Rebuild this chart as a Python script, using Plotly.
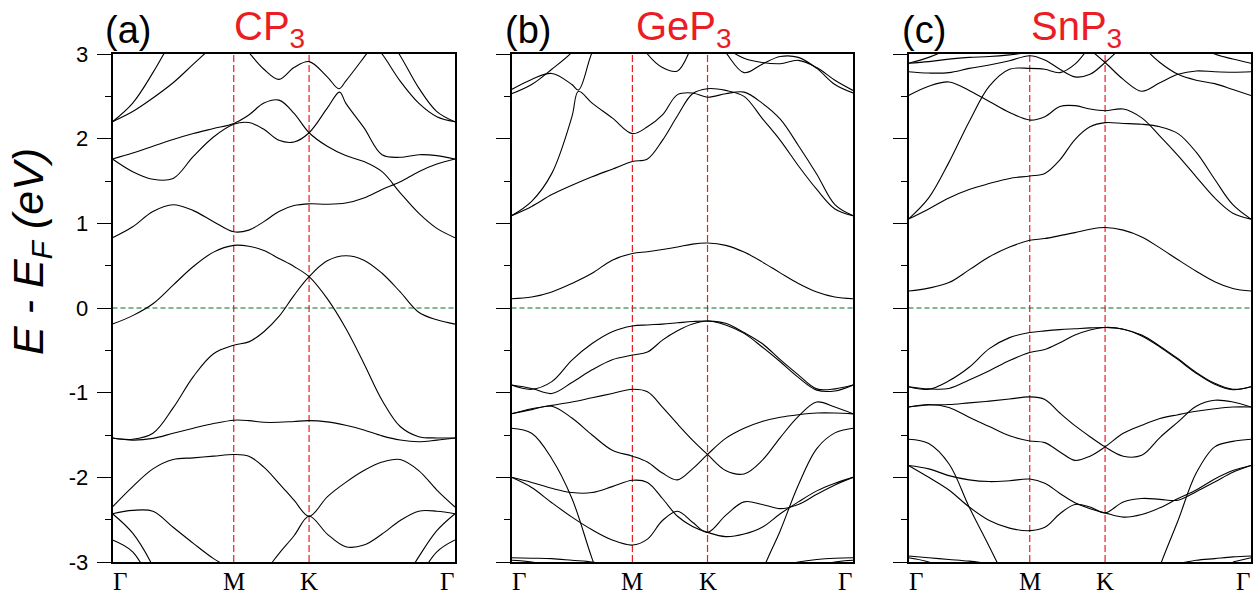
import plotly.graph_objects as go

N = None
# ---------------- data ----------------
K_GRID = [0.0, 0.059, 0.118, 0.177, 0.236, 0.295, 0.354, 0.398, 0.442, 0.486,
          0.530, 0.574, 0.627, 0.681, 0.734, 0.787, 0.840, 0.894, 0.947, 1.0]
KPATH_TICKS = [0.354, 0.574]            # M, K
XTICK_POS = [0.022, 0.354, 0.574, 0.978]
XTICK_TEXT = ["Γ", "M", "K", "Γ"]
YTICK_VALS = [-3, -2, -1, 0, 1, 2, 3]
YTICK_TEXT = ["-3", "-2", "-1", "0", "1", "2", "3"]
PANEL_TAGS = ["(a)", "(b)", "(c)"]
PANEL_NAMES = ["CP<sub>3</sub>", "GeP<sub>3</sub>", "SnP<sub>3</sub>"]

CP3_BANDS = [
    [0.83, 0.96, 1.14, 1.22, 1.15, 1.02, 0.90, 0.92, 1.02, 1.14, 1.21, 1.23, 1.225, 1.24, 1.30, 1.40, 1.49, 1.61, 1.70, 1.76],
    [1.76, 1.83, 1.91, 1.99, 2.06, 2.12, 2.18, 2.28, 2.42, 2.455, 2.30, 2.07, 1.91, 1.80, 1.73, 1.61, 1.36, 1.12, 0.94, 0.83],
    [1.76, 1.61, 1.52, 1.53, 1.79, 2.02, 2.17, 2.19, 2.11, 1.98, 1.96, 2.07, 2.36, 2.42, 2.13, 1.81, 1.78, 1.81, 1.80, 1.76],
    [N, N, N, N, N, N, 3.25, 3.02, 2.82, 2.70, 2.84, 2.91, 2.73, 2.68, 2.96, 3.25, N, N, N, N],
    [2.2, 2.42, 2.78, 3.2, N, N, N, N, N, N, N, N, N, N, N, 3.3, 2.98, 2.60, 2.32, 2.2],
    [2.2, 2.32, 2.48, 2.66, 2.88, 3.1, N, N, N, N, N, N, N, N, 3.25, 3.0, 2.68, 2.42, 2.26, 2.2],
    [-0.19, -0.09, 0.05, 0.27, 0.49, 0.66, 0.74, 0.73, 0.68, 0.585, 0.49, 0.37, 0.11, -0.24, -0.655, -1.09, -1.40, -1.52, -1.535, -1.535],
    [-1.535, -1.55, -1.48, -1.18, -0.81, -0.54, -0.44, -0.40, -0.28, -0.10, 0.15, 0.37, 0.557, 0.617, 0.565, 0.41, 0.19, -0.05, -0.14, -0.19],
    [-1.535, -1.56, -1.54, -1.48, -1.42, -1.365, -1.325, -1.33, -1.35, -1.35, -1.34, -1.33, -1.345, -1.385, -1.44, -1.51, -1.56, -1.58, -1.56, -1.535],
    [-2.35, -2.11, -1.90, -1.79, -1.77, -1.75, -1.73, -1.75, -1.88, -2.07, -2.27, -2.46, -2.23, -2.06, -1.92, -1.82, -1.79, -1.92, -2.15, -2.35],
    [-2.43, -2.39, -2.40, -2.59, -2.78, -2.96, -3.1, -3.25, -3.12, -2.9, -2.69, -2.46, -2.67, -2.82, -2.80, -2.67, -2.51, -2.40, -2.40, -2.43],
    [-2.43, -2.66, -3.05, -3.6, N, N, N, N, N, N, N, N, N, N, N, N, N, N, N, N],
    [-2.74, -2.88, -3.3, N, N, N, N, N, N, N, N, N, N, N, N, N, N, N, N, N],
    [N, N, N, N, N, N, N, N, N, N, N, N, N, N, N, N, -3.3, -2.94, -2.63, -2.43],
    [N, N, N, N, N, N, N, N, N, N, N, N, N, N, N, N, N, -3.2, -2.88, -2.74],
]
# sharp avoided-crossing points (band index, k, E)
CP3_CUSPS = [(2, 0.663, 2.55), (3, 0.661, 2.59)]

GEP3_BANDS = [
    [0.11, 0.13, 0.19, 0.29, 0.41, 0.565, 0.644, 0.664, 0.69, 0.72, 0.755, 0.767, 0.74, 0.66, 0.545, 0.415, 0.29, 0.19, 0.13, 0.11],
    [1.09, 1.20, 1.34, 1.45, 1.55, 1.64, 1.73, 1.76, 1.98, 2.27, 2.53, 2.59, 2.57, 2.50, 2.24, 1.98, 1.68, 1.40, 1.17, 1.09],
    [1.09, 1.26, 1.59, 2.26, 2.42, 2.245, 2.06, 2.14, 2.28, 2.52, 2.54, 2.49, 2.53, 2.55, 2.42, 2.23, 1.92, 1.58, 1.22, 1.09],
    [2.58, 2.70, 2.77, 2.64, 3.02, 3.5, N, N, N, N, N, N, N, N, N, N, N, N, N, N],
    [2.53, 2.64, 2.82, 3.02, 3.3, N, N, N, N, N, N, N, N, N, N, N, N, N, N, N],
    [N, N, N, N, N, N, 3.3, 3.0, 2.84, 2.80, 3.1, 3.4, N, N, N, N, N, N, N, N],
    [N, N, N, N, N, N, N, N, N, N, N, 3.3, 3.02, 2.78, 2.88, 2.97, 2.96, 2.83, 2.64, 2.54],
    [N, N, N, N, N, N, N, N, N, N, N, 3.3, 3.08, 2.95, 2.90, 2.885, 2.925, 2.84, 2.69, 2.57],
    [-0.91, -0.96, -0.87, -0.615, -0.42, -0.28, -0.213, -0.20, -0.19, -0.175, -0.16, -0.154, -0.18, -0.29, -0.42, -0.61, -0.79, -0.955, -0.955, -0.91],
    [-0.91, -0.95, -1.01, -0.88, -0.73, -0.61, -0.556, -0.52, -0.38, -0.27, -0.19, -0.154, -0.20, -0.30, -0.46, -0.635, -0.82, -0.97, -0.98, -0.91],
    [-1.25, -1.19, -1.15, -1.11, -1.06, -1.01, -0.96, -0.99, -1.17, -1.37, -1.56, -1.73, -1.92, -1.96, -1.80, -1.53, -1.28, -1.11, -1.17, -1.25],
    [-1.25, -1.20, -1.16, -1.30, -1.50, -1.68, -1.75, -1.82, -1.95, -2.03, -1.90, -1.73, -1.54, -1.42, -1.34, -1.29, -1.26, -1.24, -1.24, -1.25],
    [-1.42, -1.48, -1.78, -2.25, -2.96, -3.6, N, N, N, N, N, N, N, -3.9, -3.12, -2.63, -2.09, -1.66, -1.475, -1.42],
    [-2.0, -2.06, -2.13, -2.18, -2.18, -2.11, -2.035, -2.06, -2.25, -2.46, -2.58, -2.65, -2.70, -2.67, -2.59, -2.43, -2.29, -2.16, -2.07, -2.0],
    [-2.0, -2.12, -2.30, -2.47, -2.62, -2.74, -2.80, -2.73, -2.51, -2.40, -2.53, -2.65, -2.45, -2.29, -2.32, -2.37, -2.32, -2.20, -2.09, -2.0],
    [-2.95, -2.955, -2.96, -2.98, -3.0, -3.05, N, N, N, N, N, N, N, N, N, -3.05, -3.0, -2.97, -2.955, -2.95],
    [-2.98, -3.0, -3.05, N, N, N, N, N, N, N, N, N, N, N, N, N, N, -3.05, -3.0, -2.98],
]
GEP3_CUSPS = [(2, 0.196, 2.56), (3, 0.196, 2.575)]

SNP3_BANDS = [
    [0.20, 0.235, 0.30, 0.45, 0.605, 0.72, 0.80, 0.82, 0.855, 0.89, 0.93, 0.95, 0.92, 0.84, 0.71, 0.57, 0.435, 0.31, 0.23, 0.20],
    [1.05, 1.17, 1.30, 1.40, 1.47, 1.53, 1.56, 1.59, 1.75, 1.99, 2.14, 2.19, 2.18, 2.17, 2.14, 2.06, 1.84, 1.52, 1.22, 1.05],
    [1.05, 1.30, 1.72, 2.20, 2.62, 2.82, 2.83, 2.82, 2.78, 2.88, 3.1, N, N, N, N, N, N, N, N, N],
    [2.51, 2.62, 2.67, 2.57, 2.44, 2.31, 2.22, 2.26, 2.38, 2.39, 2.35, 2.33, 2.35, 2.245, 2.03, 1.80, 1.55, 1.30, 1.12, 1.05],
    [2.79, 2.775, 2.78, 2.83, 2.87, 2.92, 2.98, 2.93, 2.82, 2.73, 2.76, 2.90, 3.1, N, N, N, N, N, N, N],
    [N, N, N, N, N, N, N, N, N, N, 3.05, 2.90, 2.70, 2.56, 2.66, 2.76, 2.80, 2.79, 2.785, 2.79],
    [N, N, N, N, N, N, N, N, N, N, N, N, N, 3.1, 2.90, 2.76, 2.69, 2.65, 2.58, 2.51],
    [N, N, N, N, N, N, N, N, N, N, N, N, N, N, N, N, 3.1, 3.0, 2.94, 2.89],
    [2.89, 2.91, 2.94, 2.96, 2.97, 2.99, 3.02, N, N, N, N, N, N, N, N, N, N, N, N, N],
    [2.89, 2.96, 3.06, N, N, N, N, N, N, N, N, N, N, N, N, N, N, N, N, N],
    [-0.93, -0.96, -0.86, -0.70, -0.48, -0.35, -0.29, -0.27, -0.255, -0.245, -0.235, -0.23, -0.25, -0.32, -0.45, -0.60, -0.76, -0.89, -0.96, -0.93],
    [-0.93, -0.955, -0.95, -0.85, -0.74, -0.62, -0.525, -0.49, -0.41, -0.32, -0.26, -0.23, -0.25, -0.33, -0.46, -0.61, -0.77, -0.90, -0.965, -0.93],
    [-1.17, -1.145, -1.14, -1.12, -1.10, -1.075, -1.05, -1.08, -1.24, -1.39, -1.52, -1.64, -1.75, -1.74, -1.53, -1.345, -1.16, -1.09, -1.11, -1.17],
    [-1.17, -1.14, -1.175, -1.29, -1.40, -1.51, -1.57, -1.59, -1.70, -1.80, -1.75, -1.64, -1.48, -1.385, -1.305, -1.26, -1.22, -1.19, -1.17, -1.17],
    [-1.55, -1.60, -1.84, -2.35, -2.82, -3.3, N, N, N, N, N, N, N, -3.7, -3.05, -2.51, -1.95, -1.64, -1.575, -1.55],
    [-1.86, -1.90, -1.98, -2.03, -2.05, -2.04, -2.02, -2.07, -2.19, -2.30, -2.37, -2.42, -2.47, -2.44, -2.36, -2.25, -2.15, -2.02, -1.92, -1.86],
    [-1.86, -2.00, -2.15, -2.35, -2.51, -2.60, -2.63, -2.59, -2.43, -2.32, -2.35, -2.42, -2.29, -2.25, -2.26, -2.27, -2.17, -2.055, -1.94, -1.86],
    [-2.93, -2.95, -2.97, -2.99, -3.02, N, N, N, N, N, N, N, N, N, N, -3.02, -2.98, -2.96, -2.94, -2.93],
    [-2.95, -3.0, -3.1, N, N, N, N, N, N, N, N, N, N, N, N, N, N, N, -3.0, -2.95],
]
SNP3_CUSPS = []

PANELS = [(CP3_BANDS, CP3_CUSPS), (GEP3_BANDS, GEP3_CUSPS), (SNP3_BANDS, SNP3_CUSPS)]

# ---------------- layout geometry ----------------
W, H = 1254, 592
ML, MR, MT, MB = 112, 2, 54, 30
PW, PH = W - ML - MR, H - MT - MB


def fx(px):
    return (px - ML) / PW


def fy(py):
    return (H - MB - py) / PH


DOMAINS = [[fx(112.5), fx(455)], [fx(511.5), fx(853)], [fx(908.5), fx(1251)]]
TAG_X = [103, 503, 900]
NAME_X = [232, 634, 1029]

RED = "rgb(236,28,36)"
GREEN = "rgb(0,110,40)"
SANS = "Liberation Sans, Arial, sans-serif"
SERIF = "Liberation Serif, Times New Roman, serif"

fig = go.Figure()
shapes = []
annotations = []

for i, (bands, cusps) in enumerate(PANELS):
    n = i + 1
    xa = "x" if n == 1 else f"x{n}"
    ya = "y" if n == 1 else f"y{n}"
    for bi, b in enumerate(bands):
        pts = list(zip(K_GRID, b))
        pts += [(ck, ce) for (cb, ck, ce) in cusps if cb == bi]
        pts.sort(key=lambda p: p[0])
        fig.add_trace(go.Scatter(
            x=[p[0] for p in pts], y=[p[1] for p in pts], mode="lines", xaxis=xa, yaxis=ya,
            line=dict(color="black", width=1.1, shape="spline", smoothing=1.0),
            showlegend=False, hoverinfo="skip"))
    for kx in KPATH_TICKS:
        shapes.append(dict(type="line", xref=xa, yref=ya, x0=kx, x1=kx, y0=-3, y1=3,
                           line=dict(color=RED, width=1.2, dash="7px,3px"), layer="below"))
    shapes.append(dict(type="line", xref=xa, yref=ya, x0=0, x1=1, y0=0, y1=0,
                       line=dict(color=GREEN, width=1.1, dash="5px,3px"), layer="below"))

    xkey = "xaxis" if n == 1 else f"xaxis{n}"
    ykey = "yaxis" if n == 1 else f"yaxis{n}"
    fig.layout[xkey] = dict(
        domain=DOMAINS[i], range=[0, 1], anchor=ya,
        showticklabels=False, ticks="",
        showline=True, linecolor="black", linewidth=1.6, mirror=True,
        showgrid=False, zeroline=False)
    fig.layout[ykey] = dict(
        domain=[0, 1], range=[-3, 3], anchor=xa,
        tickvals=YTICK_VALS, ticktext=YTICK_TEXT,
        ticks="outside", ticklen=14, tickwidth=1.3, tickcolor="black",
        minor=dict(ticks="outside", ticklen=6, tickwidth=1.3, tickcolor="black", dtick=0.5, tick0=0),
        showticklabels=(n == 1), ticklabelstandoff=4,
        tickfont=dict(family=SANS, size=22, color="black"),
        showline=True, linecolor="black", linewidth=1.6, mirror=True,
        showgrid=False, zeroline=False)

    for kx, lab in zip(XTICK_POS, XTICK_TEXT):
        annotations.append(dict(text=lab, xref=xa, yref="paper", x=kx, y=fy(566),
                                xanchor="center", yanchor="top", showarrow=False,
                                font=dict(family=SERIF, size=25, color="black")))

    annotations.append(dict(text=PANEL_TAGS[i], xref="paper", yref="paper",
                            x=fx(TAG_X[i]), y=fy(30), xanchor="left", yanchor="middle",
                            showarrow=False, font=dict(family=SANS, size=38, color="black")))
    annotations.append(dict(text=PANEL_NAMES[i], xref="paper", yref="paper",
                            x=fx(NAME_X[i]), y=fy(2), xanchor="left", yanchor="top",
                            showarrow=False, font=dict(family=SANS, size=40, color=RED)))

annotations.append(dict(text="<i>E - E<sub>F</sub> (eV)</i>", xref="paper", yref="paper",
                        x=fx(31), y=fy(252), xanchor="center", yanchor="middle", textangle=-90,
                        showarrow=False, font=dict(family=SANS, size=43, color="black")))

fig.update_layout(
    width=W, height=H, margin=dict(l=ML, r=MR, t=MT, b=MB, autoexpand=False),
    paper_bgcolor="white", plot_bgcolor="white",
    shapes=shapes, annotations=annotations, showlegend=False)

fig.write_html("out.html")
